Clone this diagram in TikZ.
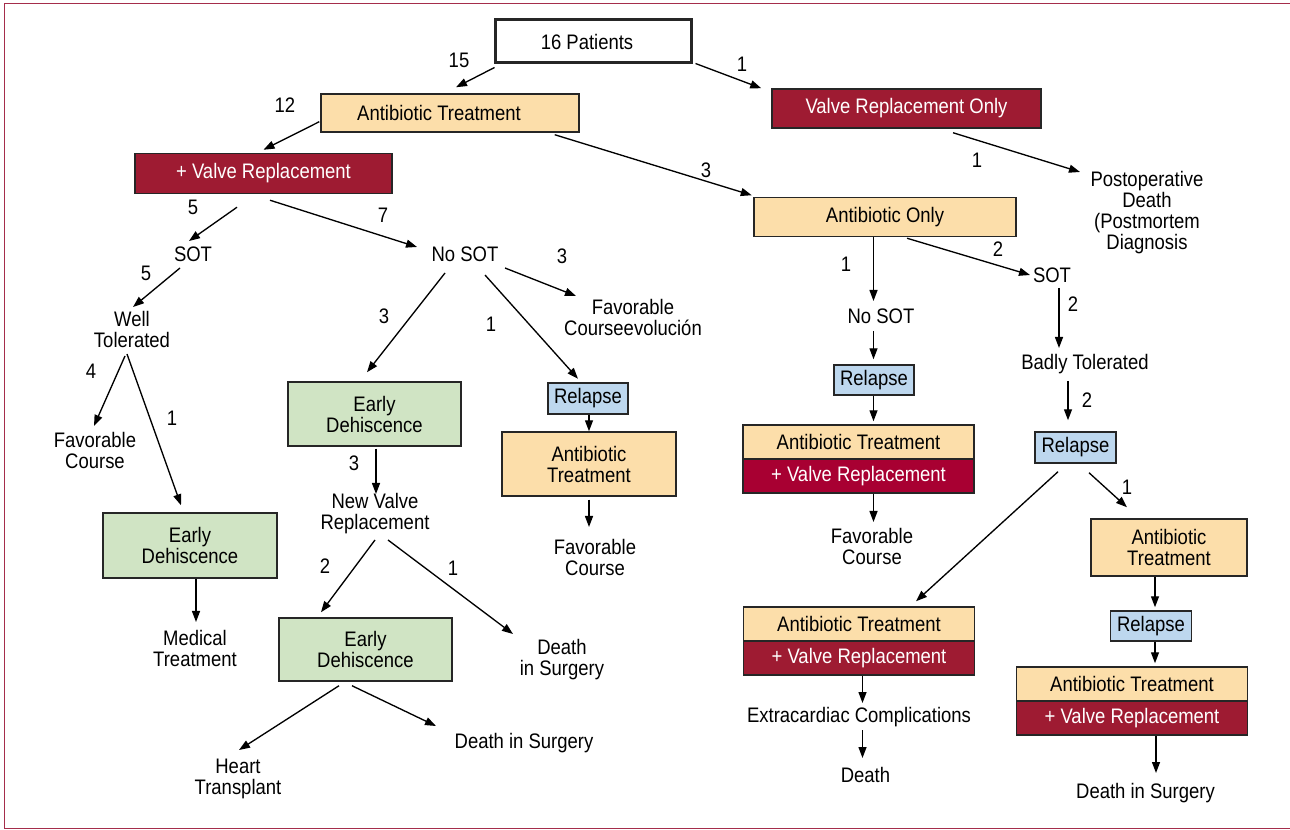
\documentclass[tikz,border=0pt]{standalone}
\usepackage{fontspec}
\setmainfont[FakeStretch=0.88]{Liberation Sans}
\usetikzlibrary{arrows.meta,calc}
\newdimen\pxu \pxu=0.75pt
\definecolor{peach}{RGB}{252,222,170}
\definecolor{vred}{RGB}{158,27,50}
\definecolor{vredb}{RGB}{168,0,50}
\definecolor{lblue}{RGB}{189,215,238}
\definecolor{lgreen}{RGB}{208,228,196}
\definecolor{framec}{RGB}{165,45,75}
\newcommand\diagfont{\fontsize{15.75pt}{15.75pt}\selectfont}
\tikzset{
  base/.style={font=\diagfont, inner sep=0pt, align=center},
  boxb/.style={base, draw=black!85, line width=1.1pt},
  pk/.style={boxb, fill=peach},
  rd/.style={boxb, fill=vred, text=white},
  rdb/.style={boxb, fill=vredb, text=white},
  bl/.style={boxb, fill=lblue},
  gr/.style={boxb, fill=lgreen},
  tx/.style={base},
  num/.style={base},
  arr/.style={-{Triangle[length=8.25pt,width=6pt]}, line width=1pt},
}
\begin{document}
\begin{tikzpicture}[x=0.75pt,y=-0.75pt]
\useasboundingbox (0,0) rectangle (1290,830);
\draw[framec, line width=1.2pt] (1295,3.5) -- (4.5,3.5) -- (4.5,828.5) -- (1295,828.5);

% boxes
\node[boxb, fill=white, line width=2.25pt, minimum width=196\pxu, minimum height=43\pxu] (p16) at (593,41.5) {16 Patients\hspace*{12\pxu}};
\node[pk, minimum width=258\pxu, minimum height=38\pxu] (at1) at (450,113) {Antibiotic Treatment\hspace*{22\pxu}};
\node[rd, minimum width=269\pxu, minimum height=39\pxu] (vro) at (906.5,108.5) {Valve Replacement Only};
\node[rd, minimum width=257\pxu, minimum height=40\pxu] (vr1) at (263.5,173.5) {+ Valve Replacement};
\node[pk, minimum width=262\pxu, minimum height=39\pxu] (ao) at (885,217) {Antibiotic Only};
\node[gr, minimum width=174\pxu, minimum height=65\pxu] (edL) at (190,545.5) {Early\\Dehiscence};
\node[gr, minimum width=173\pxu, minimum height=64\pxu] (edM) at (374.5,414) {Early\\Dehiscence};
\node[gr, minimum width=173\pxu, minimum height=63\pxu] (edB) at (365.5,649.5) {Early\\Dehiscence};
\node[bl, minimum width=80\pxu, minimum height=31\pxu] (relM) at (588,398.5) {Relapse};
\node[pk, minimum width=174\pxu, minimum height=64\pxu] (atM) at (589,464) {Antibiotic\\Treatment};
\node[bl, minimum width=80\pxu, minimum height=30\pxu] (relR1) at (874,380) {Relapse};
\node[pk, minimum width=231\pxu, minimum height=34\pxu] (st1t) at (858.5,442) {Antibiotic Treatment};
\node[rdb, minimum width=231\pxu, minimum height=34\pxu] (st1b) at (858.5,476) {+ Valve Replacement};
\node[bl, minimum width=81\pxu, minimum height=31\pxu] (relR2) at (1075.5,447.5) {Relapse};
\node[pk, minimum width=156\pxu, minimum height=57\pxu] (atR) at (1169,547.5) {Antibiotic\\Treatment};
\node[pk, minimum width=231\pxu, minimum height=34\pxu] (st2t) at (859,624) {Antibiotic Treatment};
\node[rd, minimum width=231\pxu, minimum height=34\pxu] (st2b) at (859,658) {+ Valve Replacement};
\node[bl, minimum width=81\pxu, minimum height=30\pxu] (relR3) at (1151,626) {Relapse};
\node[pk, minimum width=231\pxu, minimum height=34\pxu] (st3t) at (1132,684) {Antibiotic Treatment};
\node[rd, minimum width=231\pxu, minimum height=34\pxu] (st3b) at (1132,718) {+ Valve Replacement};

% text nodes
\node[tx] (postop) at (1147,212.5) {Postoperative\\Death\\(Postmortem\\Diagnosis};
\node[tx] (sotL) at (193,254) {SOT};
\node[tx] (nosotM) at (465,254) {No SOT};
\node[tx] (fcevo) at (633,317) {Favorable\\Courseevolución};
\node[tx] (wt) at (132,329) {Well\\Tolerated};
\node[tx] (fcL) at (95,450) {Favorable\\Course};
\node[tx] (mt) at (195,648.5) {Medical\\Treatment};
\node[tx] (nvr) at (375,514) {New Valve\\Replacement};
\node[tx] (dis1) at (562,660) {Death\\in Surgery};
\node[tx] (ht) at (238,779) {Heart\\Transplant};
\node[tx] (dis2) at (524,743) {Death in Surgery};
\node[tx] (fcM) at (595,557) {Favorable\\Course};
\node[tx] (nosotR) at (881,316) {No SOT};
\node[tx] (sotR) at (1052,275) {SOT};
\node[tx] (bt) at (1085,364) {Badly Tolerated};
\node[tx] (fcR) at (872,546.5) {Favorable\\Course};
\node[tx] (extra) at (859,717) {Extracardiac Complications};
\node[tx] (death) at (865.5,775) {Death};
\node[tx] (disR) at (1145.5,793) {Death in Surgery};

% number labels
\node[num] (n1) at (459,60) {15};
\node[num] (n2) at (742,64) {1};
\node[num] (n3) at (285,105) {12};
\node[num] (n4) at (706,170) {3};
\node[num] (n5) at (977,160) {1};
\node[num] (n6) at (193,207) {5};
\node[num] (n7) at (383,215) {7};
\node[num] (n8) at (146,273) {5};
\node[num] (n9) at (562,256) {3};
\node[num] (n10) at (384,316) {3};
\node[num] (n11) at (491,324) {1};
\node[num] (n12) at (91,371) {4};
\node[num] (n13) at (172,418) {1};
\node[num] (n14) at (354,463) {3};
\node[num] (n15) at (325,566) {2};
\node[num] (n16) at (453,568) {1};
\node[num] (n17) at (846,264) {1};
\node[num] (n18) at (998,249) {2};
\node[num] (n19) at (1073,304) {2};
\node[num] (n20) at (1087,400) {2};
\node[num] (n21) at (1127,487) {1};

% arrows
\draw[arr] ($(p16.south west)+(1,3)$) -- ($(at1.north)+(6,-6)$);
\draw[arr] ($(p16.south east)+(3,-1)$) -- ($(vro.north west)+(-10,0)$);
\draw[arr] ($(at1.south west)+(-1,-11)$) -- ($(vr1.north)+(0,-3)$);
\draw[arr] ($(at1.south east)+(-25,2)$) -- ($(ao.north west)+(-1.5,-1.5)$);
\draw[arr] ($(vro.south)+(46.5,4)$) -- ($(postop.center)+(-67,-40.5)$);
\draw[arr] ($(vr1.south)+(-26.5,13)$) -- ($(sotL.center)+(-4,-13)$);
\draw[arr] ($(vr1.south)+(6.5,6)$) -- ($(nosotM.center)+(-48,-7)$);
\draw[arr] ($(sotL.center)+(-13,14)$) -- ($(wt.center)+(1,-22)$);
\draw[arr] ($(nosotM.center)+(40,14)$) -- ($(fcevo.center)+(-57,-21)$);
\draw[arr] ($(nosotM.center)+(-20,19)$) -- ($(edM.north)+(-7.5,-9)$);
\draw[arr] ($(nosotM.center)+(20,21)$) -- ($(relM.north)+(-10,-3.5)$);
\draw[arr] ($(wt.center)+(-7,27)$) -- ($(fcL.center)+(-1,-24)$);
\draw[arr] ($(wt.center)+(-5,25)$) -- ($(edL.north)+(-9,-7)$);
\draw[arr] ($(edL.south)+(6,0)$) -- ($(mt.center)+(1,-26.5)$);
\draw[arr] ($(edM.south)+(1.5,2)$) -- ($(nvr.center)+(1,-20)$);
\draw[arr] ($(nvr.center)+(0,26)$) -- ($(edB.north)+(-44.5,-5)$);
\draw[arr] ($(nvr.center)+(13,26)$) -- ($(dis1.center)+(-49,-26)$);
\draw[arr] ($(edB.south)+(-26.5,4)$) -- ($(ht.center)+(1,-29)$);
\draw[arr] ($(edB.south)+(-13.5,4)$) -- ($(dis2.center)+(-88,-17)$);
\draw[arr] ($(relM.south)+(1,0)$) -- ($(atM.north)$);
\draw[arr] ($(atM.south)+(0,3)$) -- ($(fcM.center)+(-6,-30)$);
\draw[arr] ($(ao.south)+(-11.5,0)$) -- ($(nosotR.center)+(-7.5,-15)$);
\draw[arr] ($(ao.south)+(22,1)$) -- ($(sotR.center)+(-22,0)$);
\draw[arr] ($(nosotR.center)+(-7.5,15)$) -- ($(relR1.north)+(-0.5,-5)$);
\draw[arr] ($(relR1.south)+(-0.5,0)$) -- ($(st1t.north)+(15,-3)$);
\draw[arr] ($(sotR.center)+(7,13)$) -- ($(bt.center)+(-26,-16)$);
\draw[arr] ($(bt.center)+(-17,17)$) -- ($(relR2.north)+(-7.5,-11)$);
\draw[arr] ($(st1b.south)+(15,0)$) -- ($(fcR.center)+(1.5,-24.5)$);
\draw[arr] ($(relR2.south)+(-17.5,8)$) -- ($(st2t.north)+(57,-5)$);
\draw[arr] ($(relR2.south)+(13.5,9)$) -- ($(atR.north)+(-42,-11)$);
\draw[arr] ($(atR.south)+(-14,0)$) -- ($(relR3.north)+(4,-3)$);
\draw[arr] ($(relR3.south)+(4,0)$) -- ($(st3t.north)+(23,-3)$);
\draw[arr] ($(st3b.south)+(24,0)$) -- ($(disR.center)+(10.5,-20)$);
\draw[arr] ($(st2b.south)+(3.5,0)$) -- ($(extra.center)+(3.5,-14)$);
\draw[arr] ($(extra.center)+(3.5,13)$) -- ($(death.center)+(-3,-17)$);
\end{tikzpicture}
\end{document}
